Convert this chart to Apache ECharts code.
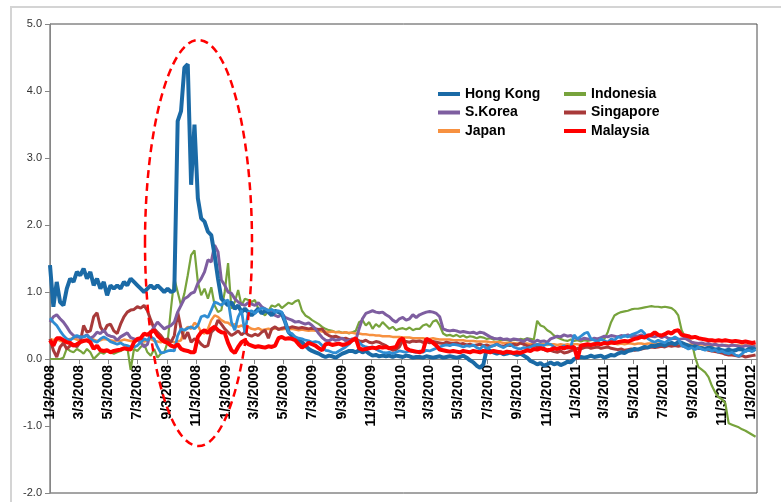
<!DOCTYPE html>
<html>
<head>
<meta charset="utf-8">
<script src="https://cdn.jsdelivr.net/npm/echarts@6/dist/echarts.min.js"></script>
<style>html,body{margin:0;padding:0;background:#fff}#c{width:781px;height:502px}</style>
</head>
<body>
<div id="c"></div>
<script>
// x-axis tick labels (every two months)
const tickLabels = ['1/3/2008','3/3/2008','5/3/2008','7/3/2008','9/3/2008','11/3/2008','1/3/2009','3/3/2009','5/3/2009','7/3/2009','9/3/2009','11/3/2009','1/3/2010','3/3/2010','5/3/2010','7/3/2010','9/3/2010','11/3/2010','1/3/2011','3/3/2011','5/3/2011','7/3/2011','9/3/2011','11/3/2011','1/3/2012'];
// weekly observations starting 1/3/2008
const firstWeek = '1/3/2008';
const axisEnd = '1/15/2012';
const yMin = -2, yMax = 5, yStep = 1;
const seriesNames = ['Hong Kong','Indonesia','S.Korea','Singapore','Japan','Malaysia'];

const hongKong = [
1.40,0.78,1.15,0.85,0.80,1.05,1.20,1.15,1.30,1.25,
1.35,1.20,1.30,1.10,1.20,1.05,1.15,0.95,1.10,1.05,
1.10,1.05,1.15,1.10,1.20,1.15,1.10,1.05,1.00,1.05,
1.10,1.05,1.10,1.05,1.00,1.05,1.00,1.02,3.55,3.70,
4.35,4.40,2.60,3.50,2.40,2.10,2.05,1.90,1.85,1.55,
1.20,0.90,0.85,0.80,0.85,0.75,0.80,0.70,0.75,0.70,
0.65,0.70,0.75,0.68,0.72,0.70,0.65,0.72,0.70,0.68,
0.55,0.40,0.35,0.30,0.28,0.25,0.20,0.15,0.12,0.10,
0.08,0.05,0.03,0.05,0.04,0.02,0.05,0.08,0.10,0.12,
0.12,0.10,0.13,0.10,0.12,0.08,0.05,0.06,0.04,0.05,
0.04,0.05,0.03,0.05,0.04,0.03,0.05,0.04,0.02,0.03,
0.03,0.02,0.04,0.03,0.02,0.03,0.04,0.02,0.03,0.04,
0.03,0.02,0.03,0.05,0.02,-0.02,-0.05,-0.10,-0.13,-0.08,
0.15,0.12,0.10,0.08,0.10,0.07,0.08,0.10,0.08,0.06,
0.08,0.05,0.02,-0.03,-0.05,-0.08,-0.06,-0.10,-0.08,-0.05,
-0.08,-0.06,-0.09,-0.07,-0.04,-0.05,0.00,0.02,0.03,0.02,
0.03,0.05,0.03,0.04,0.05,0.02,0.04,0.06,0.05,0.08,
0.10,0.09,0.12,0.13,0.15,0.14,0.16,0.18,0.17,0.20,
0.19,0.21,0.22,0.20,0.23,0.24,0.22,0.25,0.24,0.22,
0.20,0.18,0.19,0.17,0.16,0.15,0.17,0.16,0.14,0.15,
0.13,0.12,0.14,0.12,0.13,0.15,0.14,0.12,0.15,0.16,0.14];

const otherBlue = [
0.61,0.55,0.50,0.42,0.35,0.30,0.28,0.32,0.35,0.33,
0.33,0.35,0.30,0.27,0.25,0.30,0.33,0.30,0.26,0.24,
0.22,0.24,0.21,0.20,0.18,0.18,0.20,0.25,0.30,0.28,
0.33,0.30,0.18,0.09,0.10,0.12,0.13,0.12,0.35,0.45,
0.43,0.46,0.48,0.45,0.50,0.63,0.65,0.62,0.73,0.85,
0.83,0.80,0.86,0.88,0.55,0.43,0.63,0.73,0.39,0.70,
0.72,0.68,0.73,0.76,0.75,0.72,0.74,0.70,0.72,0.70,
0.55,0.40,0.38,0.33,0.31,0.30,0.28,0.27,0.25,0.26,
0.25,0.20,0.13,0.12,0.10,0.09,0.12,0.15,0.18,0.22,
0.28,0.30,0.25,0.20,0.18,0.17,0.18,0.15,0.12,0.10,
0.09,0.10,0.08,0.10,0.12,0.11,0.10,0.12,0.11,0.10,
0.12,0.10,0.13,0.12,0.14,0.16,0.18,0.20,0.21,0.20,
0.22,0.21,0.20,0.18,0.20,0.19,0.21,0.17,0.15,0.20,
0.15,0.18,0.20,0.22,0.19,0.17,0.20,0.22,0.18,0.16,
0.15,0.17,0.16,0.18,0.20,0.22,0.21,0.20,0.23,0.22,
0.18,0.15,0.17,0.20,0.16,0.18,0.36,0.30,0.34,0.38,
0.40,0.30,0.28,0.26,0.30,0.27,0.25,0.30,0.28,0.33,
0.32,0.35,0.33,0.36,0.38,0.40,0.43,0.38,0.30,0.27,
0.25,0.28,0.26,0.24,0.28,0.30,0.33,0.30,0.20,0.18,
0.15,0.17,0.14,0.18,0.15,0.13,0.15,0.12,0.14,0.10,
0.12,0.09,0.08,0.10,0.06,0.04,0.08,0.12,0.13,0.11,0.14];

const indonesia = [
0.00,0.00,0.00,0.00,0.02,0.16,0.12,0.10,0.15,0.12,
0.08,0.15,0.10,0.00,0.05,0.10,0.08,0.12,0.10,0.08,
0.10,0.12,0.15,0.18,-0.16,0.15,0.12,0.18,0.22,0.10,
0.05,0.15,0.02,0.08,0.10,0.25,0.75,1.20,1.00,0.80,
0.98,1.25,1.55,1.62,1.15,0.95,1.05,0.90,1.07,0.80,
0.70,0.73,1.00,1.43,0.75,0.85,1.03,0.80,0.90,0.88,
0.85,0.88,0.75,0.70,0.65,0.72,0.80,0.78,0.82,0.76,
0.80,0.84,0.82,0.86,0.88,0.72,0.65,0.62,0.58,0.55,
0.52,0.48,0.45,0.43,0.42,0.40,0.41,0.39,0.40,0.38,
0.40,0.42,0.55,0.58,0.50,0.55,0.45,0.52,0.48,0.55,
0.50,0.45,0.48,0.43,0.45,0.46,0.44,0.47,0.43,0.45,
0.45,0.50,0.52,0.48,0.56,0.58,0.50,0.38,0.35,0.36,
0.34,0.36,0.33,0.35,0.32,0.34,0.33,0.31,0.33,0.32,
0.30,0.31,0.29,0.30,0.28,0.29,0.28,0.27,0.29,0.28,
0.30,0.29,0.31,0.30,0.29,0.57,0.50,0.48,0.43,0.40,
0.35,0.32,0.30,0.28,0.27,0.29,0.27,0.28,0.26,0.28,
0.27,0.28,0.29,0.30,0.28,0.30,0.40,0.55,0.65,0.68,
0.70,0.71,0.72,0.74,0.75,0.75,0.76,0.77,0.78,0.79,
0.78,0.78,0.77,0.78,0.77,0.76,0.72,0.65,0.43,0.33,
0.30,0.25,0.03,-0.12,-0.16,-0.20,-0.27,-0.40,-0.50,-0.57,
-0.60,-0.66,-0.96,-0.98,-1.00,-1.02,-1.05,-1.07,-1.10,-1.13,-1.16];

const sKorea = [
0.55,0.63,0.66,0.60,0.55,0.48,0.40,0.35,0.33,0.32,
0.33,0.36,0.31,0.34,0.40,0.38,0.43,0.36,0.34,0.33,
0.28,0.33,0.36,0.39,0.32,0.30,0.28,0.25,0.18,0.22,
0.40,0.48,0.55,0.50,0.45,0.48,0.50,0.55,0.70,0.80,
0.90,0.93,0.98,1.00,1.13,1.20,1.30,1.48,1.45,1.70,
1.60,1.18,1.10,1.00,0.98,0.90,0.85,0.82,0.80,0.84,
0.82,0.80,0.84,0.78,0.75,0.72,0.70,0.65,0.63,0.68,
0.62,0.60,0.58,0.55,0.56,0.54,0.52,0.54,0.50,0.45,
0.38,0.32,0.28,0.27,0.30,0.28,0.29,0.31,0.27,0.28,
0.30,0.28,0.45,0.60,0.68,0.70,0.72,0.70,0.69,0.70,
0.66,0.63,0.58,0.55,0.60,0.62,0.58,0.60,0.66,0.62,
0.66,0.68,0.70,0.71,0.70,0.68,0.63,0.45,0.43,0.42,
0.43,0.42,0.40,0.41,0.40,0.39,0.40,0.38,0.40,0.39,
0.36,0.33,0.31,0.30,0.31,0.29,0.30,0.28,0.30,0.29,
0.28,0.26,0.30,0.27,0.25,0.28,0.26,0.27,0.25,0.30,
0.32,0.34,0.33,0.36,0.34,0.35,0.32,0.30,0.29,0.31,
0.30,0.29,0.31,0.30,0.32,0.34,0.33,0.35,0.34,0.33,
0.35,0.34,0.36,0.33,0.35,0.34,0.36,0.33,0.35,0.34,
0.33,0.35,0.32,0.34,0.31,0.30,0.31,0.29,0.30,0.31,
0.28,0.25,0.24,0.23,0.24,0.22,0.23,0.21,0.22,0.20,
0.21,0.20,0.19,0.21,0.20,0.19,0.18,0.20,0.19,0.18,0.19];

const singapore = [
0.30,0.13,0.03,0.18,0.24,0.15,0.20,0.22,0.18,0.25,
0.50,0.40,0.42,0.63,0.69,0.48,0.40,0.50,0.52,0.42,
0.38,0.52,0.63,0.70,0.73,0.74,0.78,0.76,0.80,0.72,
0.58,0.45,0.40,0.35,0.28,0.30,0.25,0.35,0.70,0.45,
0.30,0.40,0.25,0.30,0.28,0.22,0.18,0.20,0.40,0.45,
0.58,0.52,0.45,0.40,0.35,0.38,0.42,0.36,0.40,0.36,
0.34,0.37,0.35,0.40,0.43,0.31,0.45,0.48,0.44,0.46,
0.47,0.46,0.48,0.47,0.46,0.47,0.46,0.45,0.46,0.45,
0.44,0.45,0.38,0.35,0.33,0.34,0.32,0.30,0.31,0.29,
0.28,0.30,0.27,0.26,0.28,0.25,0.24,0.26,0.25,0.22,
0.20,0.16,0.13,0.14,0.18,0.28,0.26,0.25,0.27,0.26,
0.27,0.25,0.26,0.24,0.26,0.25,0.24,0.23,0.25,0.24,
0.23,0.24,0.22,0.23,0.21,0.22,0.20,0.21,0.22,0.20,
0.21,0.19,0.20,0.22,0.20,0.19,0.21,0.20,0.22,0.21,
0.24,0.22,0.20,0.19,0.21,0.18,0.17,0.14,0.12,0.13,
0.11,0.10,0.12,0.09,0.10,0.12,0.14,0.16,0.15,0.17,
0.18,0.16,0.17,0.18,0.16,0.17,0.18,0.16,0.15,0.14,
0.15,0.13,0.14,0.15,0.13,0.14,0.15,0.16,0.17,0.18,
0.17,0.18,0.19,0.18,0.20,0.19,0.20,0.19,0.20,0.18,
0.18,0.17,0.18,0.16,0.17,0.15,0.13,0.12,0.11,0.10,
0.09,0.07,0.06,0.06,0.05,0.04,0.05,0.03,0.04,0.05,0.06];

const japan = [
0.30,0.28,0.30,0.27,0.26,0.28,0.30,0.31,0.29,0.27,
0.26,0.28,0.30,0.29,0.27,0.28,0.30,0.29,0.28,0.27,
0.28,0.27,0.29,0.28,0.27,0.26,0.28,0.27,0.26,0.28,
0.30,0.27,0.26,0.25,0.27,0.28,0.26,0.25,0.26,0.28,
0.43,0.48,0.45,0.54,0.50,0.40,0.38,0.45,0.58,0.65,
0.63,0.58,0.55,0.54,0.50,0.52,0.48,0.50,0.47,0.48,
0.45,0.44,0.46,0.43,0.44,0.45,0.44,0.46,0.45,0.44,
0.45,0.44,0.45,0.44,0.43,0.44,0.43,0.42,0.43,0.42,
0.42,0.41,0.41,0.40,0.41,0.40,0.40,0.39,0.40,0.39,
0.39,0.38,0.38,0.37,0.37,0.36,0.36,0.35,0.35,0.34,
0.34,0.34,0.33,0.33,0.33,0.32,0.32,0.32,0.31,0.31,
0.31,0.31,0.30,0.30,0.31,0.30,0.29,0.29,0.29,0.29,
0.28,0.28,0.28,0.28,0.27,0.27,0.27,0.26,0.26,0.26,
0.26,0.25,0.25,0.25,0.25,0.24,0.24,0.24,0.24,0.23,
0.23,0.23,0.23,0.22,0.22,0.22,0.22,0.22,0.21,0.22,
0.22,0.21,0.22,0.21,0.22,0.21,0.22,0.22,0.21,0.22,
0.22,0.22,0.23,0.22,0.22,0.23,0.22,0.23,0.23,0.22,
0.23,0.22,0.23,0.23,0.22,0.23,0.23,0.22,0.23,0.23,
0.22,0.23,0.22,0.22,0.23,0.22,0.22,0.21,0.22,0.22,
0.21,0.22,0.21,0.21,0.22,0.21,0.21,0.20,0.21,0.21,
0.20,0.21,0.20,0.20,0.21,0.20,0.20,0.20,0.21,0.20,0.20];

const malaysia = [
0.28,0.20,0.31,0.31,0.28,0.25,0.24,0.20,0.22,0.25,
0.27,0.28,0.25,0.15,0.20,0.13,0.12,0.13,0.10,0.12,
0.13,0.14,0.16,0.15,0.14,0.25,0.30,0.31,0.38,0.36,
0.40,0.43,0.35,0.30,0.26,0.24,0.20,0.18,0.22,0.15,
0.13,0.12,0.10,0.10,0.33,0.40,0.43,0.39,0.45,0.48,
0.43,0.40,0.39,0.24,0.13,0.09,0.18,0.25,0.28,0.22,
0.20,0.18,0.19,0.18,0.17,0.19,0.18,0.20,0.31,0.33,
0.30,0.31,0.30,0.28,0.22,0.17,0.20,0.24,0.22,0.20,
0.16,0.13,0.22,0.23,0.21,0.22,0.23,0.21,0.22,0.24,
0.28,0.31,0.16,0.14,0.15,0.16,0.17,0.16,0.18,0.17,
0.18,0.16,0.17,0.18,0.28,0.31,0.16,0.13,0.12,0.11,
0.10,0.12,0.30,0.28,0.24,0.20,0.14,0.13,0.12,0.11,
0.12,0.11,0.10,0.12,0.11,0.10,0.12,0.11,0.10,0.12,
0.11,0.10,0.12,0.11,0.10,0.09,0.11,0.10,0.09,0.10,
0.09,0.11,0.13,0.12,0.15,0.14,0.16,0.15,0.13,0.14,
0.16,0.15,0.17,0.16,0.18,0.17,0.18,0.00,0.20,0.21,
0.22,0.21,0.22,0.23,0.22,0.24,0.23,0.25,0.24,0.25,
0.26,0.27,0.26,0.28,0.30,0.31,0.33,0.32,0.35,0.36,
0.40,0.36,0.35,0.37,0.40,0.38,0.42,0.43,0.36,0.35,
0.34,0.32,0.33,0.31,0.30,0.29,0.28,0.28,0.27,0.28,
0.27,0.28,0.27,0.26,0.27,0.26,0.25,0.26,0.25,0.24,0.25];

const DAY = 86400000;
function parseMDY(s) { const p = s.split('/').map(Number); return Date.UTC(p[2], p[0] - 1, p[1]); }
const t0 = parseMDY(firstWeek);
const dayOf = s => Math.round((parseMDY(s) - t0) / DAY);
const pair = arr => arr.map((v, i) => [7 * i, v]);
const tickValues = tickLabels.map(dayOf);
const labelByDay = {};
tickLabels.forEach(s => { labelByDay[dayOf(s)] = s; });

const W = 781, H = 502;
const gridL = 50, gridR = 24, gridT = 24, gridB = 9;
const plotH = H - gridT - gridB;
// x-axis sits on the zero line
const xOffset = -plotH * (0 - yMin) / (yMax - yMin);

const chart = echarts.init(document.getElementById('c'), null, { renderer: 'canvas' });
const fam = '"Liberation Sans", Arial, sans-serif';
function line(name, arr, color, width) {
  return { name: name, type: 'line', data: pair(arr), showSymbol: false, symbol: 'none',
    lineStyle: { color: color, width: width }, itemStyle: { color: color }, animation: false };
}
const legendCommon = { orient: 'vertical', top: 80, itemWidth: 22, itemHeight: 4, itemGap: 0.5, icon: 'rect',
  textStyle: { fontFamily: fam, fontSize: 14, fontWeight: 'bold', color: '#000', lineHeight: 18 }, selectedMode: false };
chart.setOption({
  animation: false,
  backgroundColor: '#fff',
  grid: { left: gridL, right: gridR, top: gridT, bottom: gridB, show: true, borderColor: '#4a4a4a', borderWidth: 1,
    containLabel: false, outerBoundsMode: 'none' },
  legend: [
    Object.assign({ left: 433, data: [seriesNames[0], seriesNames[2], seriesNames[4]] }, legendCommon),
    Object.assign({ left: 559, data: [seriesNames[1], seriesNames[3], seriesNames[5]] }, legendCommon)
  ],
  xAxis: {
    type: 'value', min: 0, max: dayOf(axisEnd), position: 'bottom', offset: xOffset,
    axisLine: { onZero: false, lineStyle: { color: '#868686', width: 1 } },
    axisTick: { show: true, length: 5, customValues: tickValues, lineStyle: { color: '#868686' } },
    axisLabel: { customValues: tickValues, rotate: 90, margin: 6, fontFamily: fam, fontSize: 14, fontWeight: 'bold', color: '#000',
      formatter: v => labelByDay[Math.round(v)] || '' },
    splitLine: { show: false }
  },
  yAxis: {
    type: 'value', min: yMin, max: yMax, interval: yStep,
    axisLine: { show: true, lineStyle: { color: '#868686' } },
    axisTick: { show: true, length: 5, lineStyle: { color: '#868686' } },
    axisLabel: { margin: 8, fontFamily: fam, fontSize: 11, color: '#333', formatter: v => v.toFixed(1) },
    splitLine: { show: false }
  },
  series: [
    line(seriesNames[1], indonesia, '#77A33C', 2.2),
    line(seriesNames[4], japan, '#F79140', 2.5),
    line(seriesNames[3], singapore, '#A83A3A', 3),
    line(seriesNames[2], sKorea, '#7E5EA0', 3),
    line(seriesNames[0], hongKong, '#1A6AA6', 4),
    line('other', otherBlue, '#2F8DD3', 2.8),
    line(seriesNames[5], malaysia, '#FF0000', 4)
  ],
  graphic: [
    { type: 'rect', shape: { x: 11, y: 7, width: 820, height: 620 }, style: { fill: 'none', stroke: '#d4d4d4', lineWidth: 2 }, silent: true, z: 0 },
    { type: 'ellipse', shape: { cx: 198.5, cy: 243, rx: 53.5, ry: 203 }, style: { fill: 'none', stroke: '#FF0000', lineWidth: 2.5, lineDash: [8, 5] }, silent: true, z: 100 }
  ]
});
</script>
</body>
</html>
